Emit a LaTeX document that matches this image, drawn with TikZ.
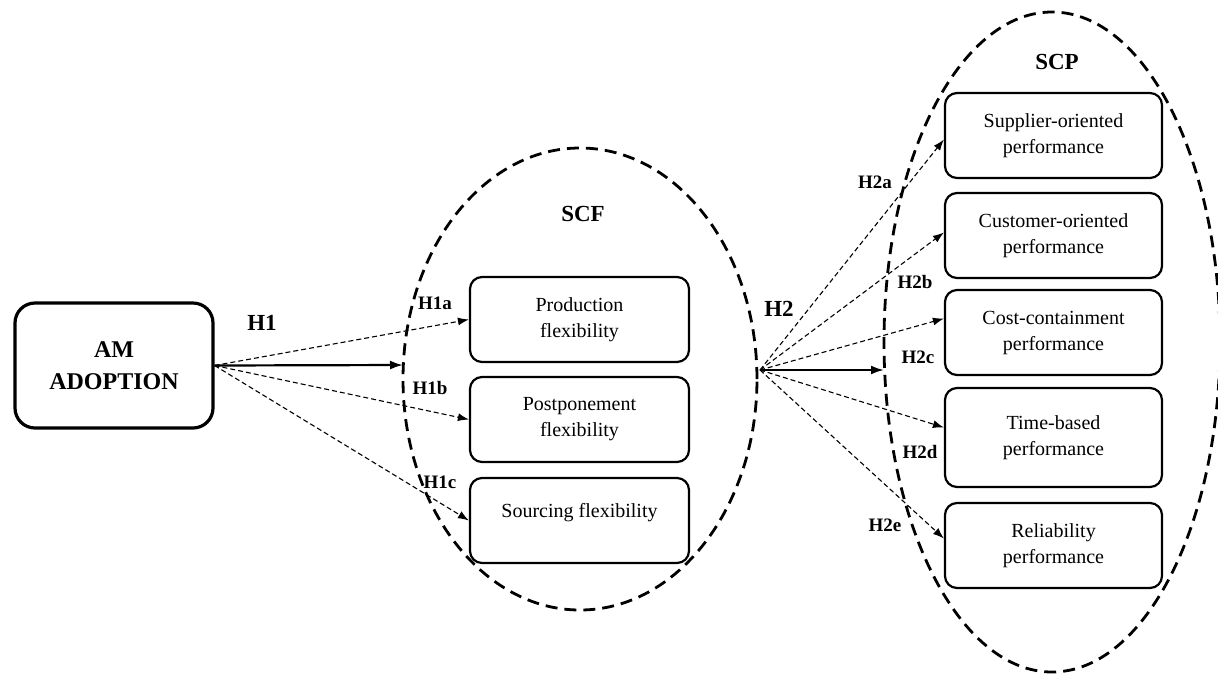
\documentclass[tikz,border=0pt]{standalone}
\usepackage{fontspec}
\setmainfont{Liberation Serif}
\usetikzlibrary{arrows.meta,shapes.geometric}
\begin{document}
\begin{tikzpicture}[x=1pt,y=-1pt,
  box/.style={draw, fill=white, line width=2.2pt, rounded corners=12pt, minimum width=217pt, minimum height=85pt, align=center, inner sep=2pt, font=\fontsize{20}{26}\selectfont},
  group/.style={ellipse, draw, line width=2.8pt, dash pattern=on 12pt off 7pt, inner sep=0pt},
  hyp/.style={line width=1.1pt, dash pattern=on 5pt off 3pt, -{Latex[length=11pt,width=8pt]}},
  mainarrow/.style={line width=2.2pt, -{Latex[length=13pt,width=9pt]}},
  big/.style={font=\bfseries\fontsize{23}{28}\selectfont, inner sep=1pt},
  small/.style={font=\bfseries\fontsize{19}{22}\selectfont, inner sep=1pt}
]
\useasboundingbox (0,0) rectangle (1218,673);

% groups
\node[group, minimum width=354pt, minimum height=462pt] (scf) at (580,379) {};
\node[group, minimum width=336pt, minimum height=660pt] (scp) at (1052,342) {};
\node[big] (scflabel) at (583,214) {SCF};
\node[big] (scplabel) at (1057,62) {SCP};

% left box
\node[draw, line width=3.2pt, rounded corners=20pt, minimum width=198pt, minimum height=125pt, align=center, font=\bfseries\fontsize{24}{32}\selectfont] (am) at (114,365.5) {AM\\ADOPTION};

% SCF boxes
\node[box, minimum width=219pt] (pf) at (579.5,319.5) {Production\\flexibility};
\node[box, minimum width=219pt] (ppf) at (579.5,419.5) {Postponement\\flexibility};
\node[box, minimum width=219pt, text height=13pt, text depth=20pt] (sf) at (579.5,520.5) {Sourcing flexibility};

% SCP boxes
\node[box] (sup) at (1053.5,135.5) {Supplier-oriented\\performance};
\node[box] (cus) at (1053.5,235.5) {Customer-oriented\\performance};
\node[box] (cost) at (1053.5,332.5) {Cost-containment\\performance};
\node[box, minimum height=99pt] (time) at (1053.5,437.5) {Time-based\\performance};
\node[box] (rel) at (1053.5,545.5) {Reliability\\performance};

% coordinates
\coordinate (h1end) at (403,365);
\coordinate (h2) at (760,370);
\coordinate (h2end) at (884,370);

% H1 arrows
\draw[mainarrow] (am.east) -- (h1end);
\draw[hyp] (am.east) -- (pf.west);
\draw[hyp] (am.east) -- (ppf.west);
\draw[hyp] (am.east) -- (sf.west);

% H2 arrows
\draw[mainarrow] (h2) -- (h2end);
\draw[hyp] (h2) -- ([yshift=-4pt]sup.west);
\draw[hyp] (h2) -- ([yshift=3pt]cus.west);
\draw[hyp] (h2) -- ([yshift=14pt]cost.west);
\draw[hyp] (h2) -- ([yshift=10pt]time.west);
\draw[hyp] (h2) -- ([yshift=7pt]rel.west);

% labels
\node[big] (lh1) at (262,323) {H1};
\node[big] (lh2) at (779,309) {H2};
\node[small] (lh1a) at (435,303) {H1a};
\node[small] (lh1b) at (430,388) {H1b};
\node[small] (lh1c) at (440,482) {H1c};
\node[small] (lh2a) at (875,182) {H2a};
\node[small] (lh2b) at (915,282) {H2b};
\node[small] (lh2c) at (918,357) {H2c};
\node[small] (lh2d) at (920,452) {H2d};
\node[small] (lh2e) at (885,525) {H2e};
\end{tikzpicture}
\end{document}
